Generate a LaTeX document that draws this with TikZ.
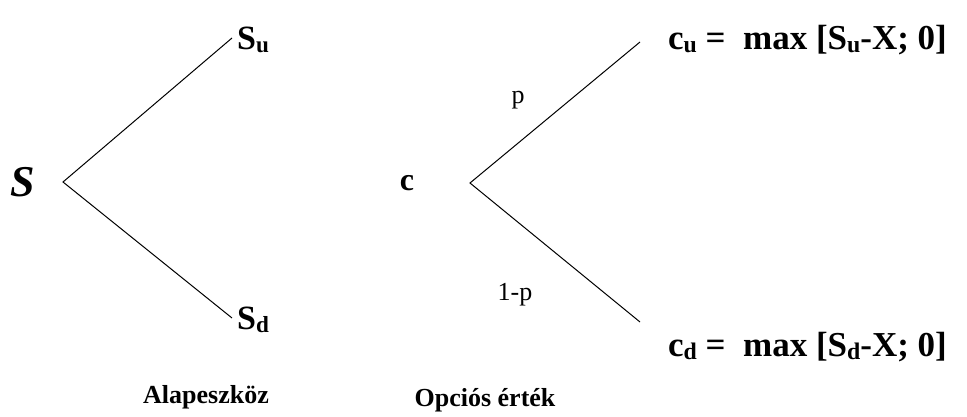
\documentclass[tikz,border=0pt]{standalone}
\usepackage{fontspec}
\setmainfont{Liberation Serif}
\newcommand{\lowidx}[1]{\raisebox{-0.1em}{\scalebox{0.68}{#1}}}
\begin{document}
\begin{tikzpicture}[
    x=1pt, y=-1pt,
    treelabel/.style={font=\fontsize{26}{30}\selectfont\bfseries, inner sep=0pt},
    leaflabel/.style={font=\fontsize{34}{38}\selectfont\bfseries, inner sep=0pt, anchor=west},
    problabel/.style={font=\fontsize{26}{30}\selectfont, inner sep=0pt},
    payoff/.style={font=\fontsize{35}{40}\selectfont\bfseries, inner sep=0pt, anchor=west},
    branch/.style={line width=1pt}
]
\useasboundingbox (0,0) rectangle (967,417);

% underlying asset
\node[font=\fontsize{44}{48}\selectfont\bfseries\itshape, inner sep=0pt] (S) at (23,182) {S};
\coordinate (sroot) at (63,182);
\coordinate (sup) at (232,38);
\coordinate (sdown) at (232,318);
\node[leaflabel] (Su) at (237,40) {S\lowidx{u}};
\node[leaflabel] (Sd) at (237,320) {S\lowidx{d}};
\node[treelabel] (asset) at (206,397) {Alapeszköz};

% option value
\node[font=\fontsize{32}{36}\selectfont\bfseries, inner sep=0pt] (c) at (407,183) {c};
\coordinate (croot) at (470,183);
\coordinate (cup) at (640,42);
\coordinate (cdown) at (640,322);
\node[problabel] (p) at (518,100) {p};
\node[problabel] (q) at (515,295) {1-p};
\node[payoff] (cu) at (668,40) {c\lowidx{u} =\ \ max [S\lowidx{u}-X; 0]};
\node[payoff] (cd) at (668,347) {c\lowidx{d} =\ \ max [S\lowidx{d}-X; 0]};
\node[treelabel] (option) at (485,400) {Opciós érték};

\draw[branch] (sup) -- (sroot) -- (sdown);
\draw[branch] (cup) -- (croot) -- (cdown);

\end{tikzpicture}
\end{document}
